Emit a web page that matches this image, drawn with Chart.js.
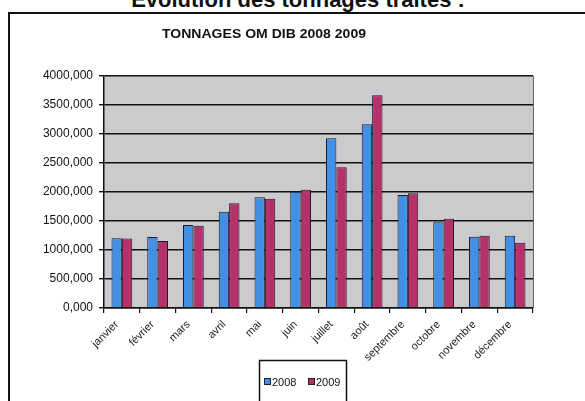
<!DOCTYPE html>
<html>
<head>
<meta charset="utf-8">
<script src="https://cdn.jsdelivr.net/npm/chart.js@4"></script>
<style>
  html, body { margin: 0; padding: 0; background: #fff; overflow: hidden; }
  #heading {
    position: absolute; left: 0; width: 596px; top: -11px;
    text-align: center; font: bold 22px Arial, "Liberation Sans", sans-serif; color: #111;
    line-height: 22px; white-space: nowrap;
  }
  #frame {
    position: absolute; left: 8px; top: 12px; width: 620px; height: 420px;
    border-left: 2px solid #111; border-top: 2px solid #111;
  }
  #wrap { position: absolute; left: 0; top: 0; width: 585px; height: 401px; }
</style>
</head>
<body>
<div id="heading">Évolution des tonnages traités :</div>
<div id="frame"></div>
<div id="wrap"><canvas id="chart"></canvas></div>
<script>
'use strict'

//months on the x axis
let months = ['janvier', 'février', 'mars', 'avril', 'mai', 'juin', 'juillet', 'août', 'septembre', 'octobre', 'novembre', 'décembre'];
//tonnages per month
let tonnes2008 = [1202, 1224, 1431, 1660, 1908, 2006, 2925, 3167, 1948, 1477, 1230, 1247];
let tonnes2009 = [1200, 1155, 1419, 1805, 1885, 2040, 2425, 3667, 1977, 1540, 1247, 1126];
//y axis
let yMax = 4000;
let yStep = 500;

let chartTitle = 'TONNAGES OM DIB 2008 2009';

let ctx = document.getElementById('chart').getContext('2d');

// grey plot background + frame, title and boxed legend
let decorations = {
  id: 'decorations',
  beforeDraw(chart){
    let c = chart.ctx;
    let a = chart.chartArea;
    c.save();
    c.fillStyle = '#cbcbce';
    c.fillRect(a.left, a.top, a.right - a.left, a.bottom - a.top);
    c.strokeStyle = '#666';
    c.lineWidth = 1;
    c.beginPath();
    c.moveTo(a.right + 0.5, a.top);
    c.lineTo(a.right + 0.5, a.bottom);
    c.stroke();
    c.restore();
  },
  afterDraw(chart){
    let c = chart.ctx;
    c.save();
    c.fillStyle = '#111';
    c.font = 'bold 12px Arial, "Liberation Sans", sans-serif';
    c.textAlign = 'center';
    c.textBaseline = 'alphabetic';
    // title is a bit wider than plain 12px bold
    let w = c.measureText(chartTitle).width;
    let sx = 204 / w;
    c.translate(264, 38);
    c.scale(sx, 1.08);
    c.fillText(chartTitle, 0, 0);
    c.setTransform(1, 0, 0, 1, 0, 0);

    // legend box
    c.strokeStyle = '#111';
    c.lineWidth = 1.5;
    c.strokeRect(259.5, 360.5, 87, 60);
    c.font = '11px Arial, "Liberation Sans", sans-serif';
    c.textAlign = 'left';
    let x = 264;
    chart.data.datasets.forEach(function(ds){
      c.fillStyle = ds.backgroundColor;
      c.fillRect(x, 378, 6, 6);
      c.strokeStyle = '#222';
      c.lineWidth = 1;
      c.strokeRect(x + 0.5, 378.5, 6, 6);
      c.fillStyle = '#111';
      c.fillText(ds.label, x + 8, 386);
      x += 44;
    });
    c.restore();
  }
};

let myChartObj = {
  type: 'bar',
  data: {
    labels: months,
    datasets: [{
      label: '2008',
      data: tonnes2008,
      backgroundColor: '#4290e6',
      borderColor: '#1c1c2c',
      borderWidth: 1,
      categoryPercentage: 0.58,
      barPercentage: 1
    },
    {
      label: '2009',
      data: tonnes2009,
      backgroundColor: '#b5316a',
      borderColor: '#1c1c2c',
      borderWidth: 1,
      categoryPercentage: 0.58,
      barPercentage: 1
    }]
  },
  options: {
    responsive: false,
    animation: false,
    layout: {
      padding: { left: 0, right: 52, top: 76, bottom: 0 }
    },
    plugins: {
      legend: { display: false },
      title: { display: false },
      tooltip: { enabled: false }
    },
    scales: {
      x: {
        afterFit: function(scale){ scale.height = 93; },
        grid: {
          offset: true,
          drawOnChartArea: false,
          drawTicks: true,
          tickLength: 5,
          color: '#111',
          lineWidth: 1.2
        },
        border: { color: '#111', width: 1.5 },
        ticks: {
          minRotation: 45,
          maxRotation: 45,
          autoSkip: false,
          padding: 5,
          labelOffset: -5,
          color: '#222',
          font: { family: 'Arial, "Liberation Sans", sans-serif', size: 11 }
        }
      },
      y: {
        min: 0,
        max: yMax,
        afterFit: function(scale){ scale.width = 104; },
        grid: {
          color: '#111',
          lineWidth: 1.4,
          tickLength: 5
        },
        border: { color: '#111', width: 1.5 },
        ticks: {
          stepSize: yStep,
          padding: 6,
          color: '#111',
          font: { family: 'Arial, "Liberation Sans", sans-serif', size: 12 },
          callback: function(v){ return v + ',000'; }
        }
      }
    }
  },
  plugins: [decorations]
};

let canvas = document.getElementById('chart');
canvas.width = 585;
canvas.height = 401;
new Chart(ctx, myChartObj);
</script>
</body>
</html>
